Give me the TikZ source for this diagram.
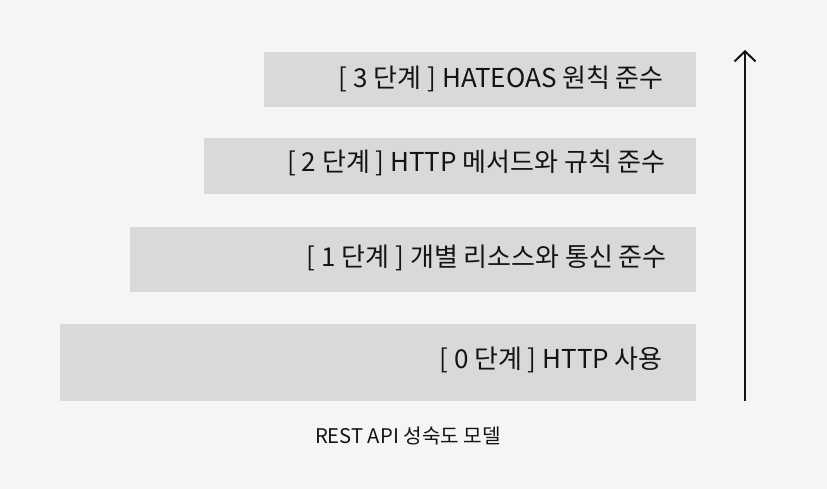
\documentclass[tikz,border=0pt]{standalone}
\usepackage{fontspec}
\setmainfont{Noto Sans CJK KR}
\usetikzlibrary{arrows.meta}
\definecolor{bgc}{HTML}{F5F5F5}
\definecolor{barc}{HTML}{D9D9D9}
\definecolor{txtc}{HTML}{141414}
\begin{document}
\begin{tikzpicture}[x=1pt,y=-1pt,
  bar/.style={fill=barc,draw=none},
  lbl/.style={anchor=east,inner sep=0pt,text=txtc,font=\fontsize{26}{30}\selectfont},
  captext/.style={inner sep=0pt,text=txtc,font=\fontsize{20.2}{24}\selectfont}]
\fill[bgc] (0,0) rectangle (827,489);
\useasboundingbox (0,0) rectangle (827,489);
\path[bar] (264,52) rectangle (696,107) coordinate (b3);
\path[bar] (204,138) rectangle (696,194) coordinate (b2);
\path[bar] (130,227) rectangle (696,292) coordinate (b1);
\path[bar] (60,324) rectangle (696,401) coordinate (b0);
\node[lbl] (t3) at (664,78.5) {[ 3 단계 ] HATEOAS 원칙 준수};
\node[lbl] (t2) at (666,162.5) {[ 2 단계 ] HTTP 메서드와 규칙 준수};
\node[lbl] (t1) at (667,257.5) {[ 1 단계 ] 개별 리소스와 통신 준수};
\node[lbl] (t0) at (663,359.5) {[ 0 단계 ] HTTP 사용};
\node[captext] (c) at (408,436) {REST API 성숙도 모델};
\coordinate (abot) at (745,401);
\coordinate (atop) at (745,50);
\draw[line width=2pt,txtc,-{Straight Barb[length=10pt,width=21pt,line width=2pt]}] (abot) -- (atop);
\end{tikzpicture}
\end{document}
